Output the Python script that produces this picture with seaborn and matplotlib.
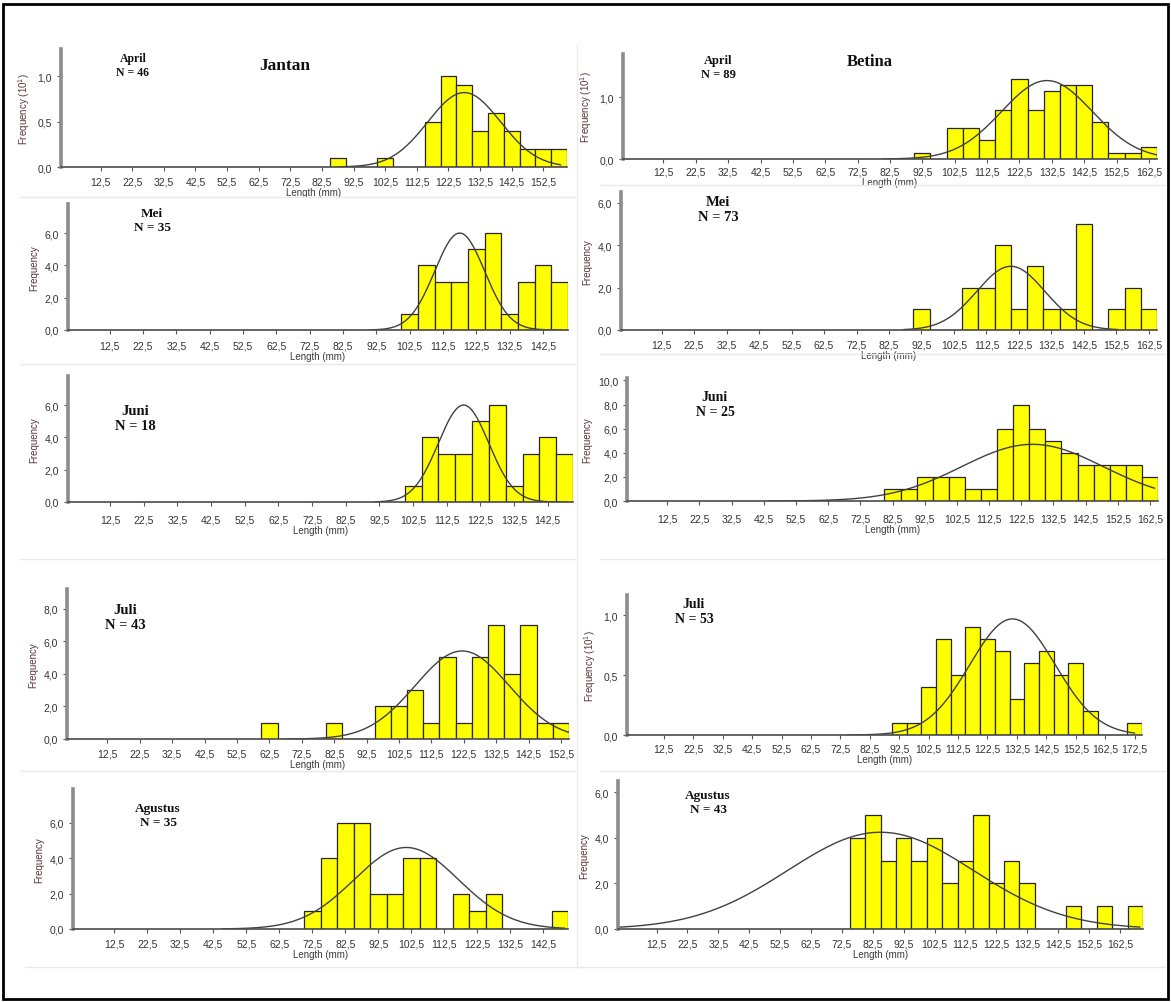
import numpy as np
import pandas as pd
import matplotlib
matplotlib.use("Agg")
import matplotlib.pyplot as plt
import seaborn as sns
from matplotlib.lines import Line2D
from matplotlib.patches import Rectangle

sns.set_theme(style="white")
plt.rcParams['font.family'] = ['Liberation Sans', 'DejaVu Sans']
plt.rcParams['mathtext.default'] = 'regular'

W, H = 1171, 1003

# ---- length-frequency data: bin centres (mm, 5 mm classes) and frequencies ----
months = ["April", "Mei", "Juni", "Juli", "Agustus"]
n_jantan = [46, 35, 18, 43, 35]
n_betina = [89, 73, 25, 53, 43]

apr_m_len = [87.5, 102.5, 117.5, 122.5, 127.5, 132.5, 137.5, 142.5, 147.5, 152.5, 157.5]
apr_m_freq = [0.1, 0.1, 0.5, 1.0, 0.9, 0.4, 0.6, 0.4, 0.2, 0.2, 0.2]

apr_f_len = [92.5, 102.5, 107.5, 112.5, 117.5, 122.5, 127.5, 132.5, 137.5, 142.5,
             147.5, 152.5, 157.5, 162.5]
apr_f_freq = [0.1, 0.5, 0.5, 0.3, 0.8, 1.3, 0.8, 1.1, 1.2, 1.2, 0.6, 0.1, 0.1, 0.2]

mei_m_len = [102.5, 107.5, 112.5, 117.5, 122.5, 127.5, 132.5, 137.5, 142.5, 147.5]
mei_m_freq = [1, 4, 3, 3, 5, 6, 1, 3, 4, 3]

mei_f_len = [92.5, 107.5, 112.5, 117.5, 122.5, 127.5, 132.5, 137.5, 142.5,
             152.5, 157.5, 162.5]
mei_f_freq = [1, 2, 2, 4, 1, 3, 1, 1, 5, 1, 2, 1]

jun_m_len = [102.5, 107.5, 112.5, 117.5, 122.5, 127.5, 132.5, 137.5, 142.5, 147.5]
jun_m_freq = [1, 4, 3, 3, 5, 6, 1, 3, 4, 3]

jun_f_len = [82.5, 87.5, 92.5, 97.5, 102.5, 107.5, 112.5, 117.5, 122.5, 127.5,
             132.5, 137.5, 142.5, 147.5, 152.5, 157.5, 162.5]
jun_f_freq = [1, 1, 2, 2, 2, 1, 1, 6, 8, 6, 5, 4, 3, 3, 3, 3, 2]

jul_m_len = [62.5, 82.5, 97.5, 102.5, 107.5, 112.5, 117.5, 122.5, 127.5, 132.5,
             137.5, 142.5, 147.5, 152.5]
jul_m_freq = [1, 1, 2, 2, 3, 1, 5, 1, 5, 7, 4, 7, 1, 1]

jul_f_len = [92.5, 97.5, 102.5, 107.5, 112.5, 117.5, 122.5, 127.5, 132.5, 137.5,
             142.5, 147.5, 152.5, 157.5, 172.5]
jul_f_freq = [0.1, 0.1, 0.4, 0.8, 0.5, 0.9, 0.8, 0.7, 0.3, 0.6, 0.7, 0.5, 0.6, 0.2, 0.1]

agu_m_len = [72.5, 77.5, 82.5, 87.5, 92.5, 97.5, 102.5, 107.5, 117.5, 122.5,
             127.5, 147.5]
agu_m_freq = [1, 4, 6, 6, 2, 2, 4, 4, 2, 1, 2, 1]

agu_f_len = [77.5, 82.5, 87.5, 92.5, 97.5, 102.5, 107.5, 112.5, 117.5, 122.5,
             127.5, 132.5, 147.5, 157.5, 167.5]
agu_f_freq = [4, 5, 3, 4, 3, 4, 2, 3, 5, 2, 3, 2, 1, 1, 1]

# fitted normal curves: mean, sd, peak height, drawn range (mm)
curve_mean = [127.5, 131.0, 117.5, 120.0, 117.5, 126.0, 122.0, 131.0, 101.0, 85.0]
curve_sd = [11.5, 14.0, 7.5, 10.5, 7.5, 22.0, 14.5, 14.5, 15.8, 30.0]
curve_peak = [0.82, 1.27, 6.0, 3.0, 6.0, 4.7, 5.4, 0.97, 4.6, 4.25]
curve_from = [88, 80, 91, 87, 91, 44, 68, 75, 45, 0]
curve_to = [158, 165, 148, 153, 148, 164, 155, 172.5, 149, 169]

lengths = [apr_m_len, apr_f_len, mei_m_len, mei_f_len, jun_m_len, jun_f_len,
           jul_m_len, jul_f_len, agu_m_len, agu_f_len]
freqs = [apr_m_freq, apr_f_freq, mei_m_freq, mei_f_freq, jun_m_freq, jun_f_freq,
         jul_m_freq, jul_f_freq, agu_m_freq, agu_f_freq]

YL_10 = "Frequency (10$^{1}$)"
YL = "Frequency"
ylabels = [YL_10, YL_10, YL, YL, YL, YL, YL, YL_10, YL, YL]
ylims = [1.3, 1.7, 7.8, 6.5, 7.8, 10.2, 9.2, 1.17, 7.9, 6.5]
yticks = [[0, 0.5, 1.0], [0, 1.0], [0, 2, 4, 6], [0, 2, 4, 6], [0, 2, 4, 6],
          [0, 2, 4, 6, 8, 10], [0, 2, 4, 6, 8], [0, 0.5, 1.0], [0, 2, 4, 6],
          [0, 2, 4, 6]]
xlims = [(0, 160), (0, 165), (0, 150), (0, 165), (0, 150), (0, 165),
         (0, 155), (0, 175), (0, 150), (0, 170)]
xtick_last = [152.5, 162.5, 142.5, 162.5, 142.5, 162.5, 152.5, 172.5, 142.5, 162.5]

# axes boxes in pixels: left, right, top, bottom
boxes = [(61, 567, 50, 168), (623, 1157, 55, 160),
         (68, 568, 205, 331), (621, 1157, 193, 331),
         (68, 573, 377, 503), (627, 1158, 379, 502),
         (67, 569, 590, 740), (627, 1142, 596, 736),
         (73, 568, 790, 930), (618, 1143, 782, 930)]
# extra gap between axis and x tick labels (points)
xpads = [3.5, 2.5, 4.5, 3.5, 6.0, 6.0, 3.5, 3.0, 4.0, 3.5]
# month / N annotation centre (pixels) and font size
notes = [(133, 66, 8.5), (718, 68, 9), (152, 221, 9.5), (718, 210, 10.5),
         (135, 419, 10.5), (715, 405, 10), (125, 618, 10.5), (694, 612, 10),
         (158, 816, 9.5), (708, 803, 9.5)]


def comma(v, nd=1):
    return f"{v:.{nd}f}".replace(".", ",")


fig = plt.figure(figsize=(W / 100, H / 100), dpi=100)
fig.patch.set_facecolor("white")

for i in range(10):
    l, r, t, b = boxes[i]
    ax = fig.add_axes([l / W, 1 - b / H, (r - l) / W, (b - t) / H])
    ax.set_facecolor("white")
    df = pd.DataFrame({"length": lengths[i], "freq": freqs[i]})
    lo = float(df["length"].min() - 2.5)
    hi = float(df["length"].max() + 2.5)
    sns.histplot(data=df, x="length", weights="freq", binwidth=5,
                 binrange=(lo, hi), ax=ax,
                 color="#FFFF00", edgecolor="#262626", linewidth=0.9,
                 alpha=1, stat="count", legend=False)
    xs = np.linspace(curve_from[i], curve_to[i], 300)
    ys = curve_peak[i] * np.exp(-0.5 * ((xs - curve_mean[i]) / curve_sd[i]) ** 2)
    sns.lineplot(x=xs, y=ys, ax=ax, color="#404040", linewidth=1.0)

    ax.set_xlim(*xlims[i])
    ax.set_ylim(0, ylims[i])
    xt = np.arange(12.5, xtick_last[i] + 0.1, 10)
    ax.set_xticks(xt)
    ax.set_xticklabels([comma(v) for v in xt])
    ax.set_yticks(yticks[i])
    ax.set_yticklabels([comma(v) for v in yticks[i]])
    ax.tick_params(axis="both", bottom=True, left=True, direction="out",
                   length=3, width=0.8, color="#555555", labelsize=7.5,
                   labelcolor="#333333")
    ax.tick_params(axis="x", pad=xpads[i])
    ax.tick_params(axis="y", pad=3.5)
    for s in ("top", "right"):
        ax.spines[s].set_visible(False)
    ax.spines["left"].set_color("#8c8c8c")
    ax.spines["left"].set_linewidth(2.6)
    ax.spines["bottom"].set_color("#4a4a4a")
    ax.spines["bottom"].set_linewidth(1.2)
    ax.set_xlabel("Length (mm)", fontsize=7, color="#3a3a3a", labelpad=0.5)
    ax.set_ylabel(ylabels[i], fontsize=7, color="#5a3434", labelpad=4)
    ax.grid(False)

    nx, ny, fs = notes[i]
    sex = n_jantan if i % 2 == 0 else n_betina
    fig.text(nx / W, 1 - ny / H, f"{months[i // 2]}\nN = {sex[i // 2]}",
             ha="center", va="center", fontsize=fs, fontweight="bold",
             family="Liberation Serif", color="#111111", linespacing=1.15)

fig.text(285 / W, 1 - 66 / H, "Jantan", ha="center", va="center",
         fontsize=12.5, fontweight="bold", family="Liberation Serif",
         color="#111111")
fig.text(870 / W, 1 - 62 / H, "Betina", ha="center", va="center", fontsize=12,
         fontweight="bold", family="Liberation Serif", color="#111111")

# faint panel separators
for (x0, x1, y) in [(20, 575, 198), (600, 1165, 186), (20, 575, 365),
                    (600, 1165, 355), (20, 575, 560), (600, 1165, 560),
                    (20, 575, 772), (600, 1165, 772), (25, 1165, 968)]:
    fig.add_artist(Line2D([x0 / W, x1 / W], [1 - y / H, 1 - y / H],
                          color="#e8e8e8", linewidth=1.0))
fig.add_artist(Line2D([577 / W, 577 / W], [1 - 45 / H, 1 - 968 / H],
                      color="#ebebeb", linewidth=1.0))

# outer frame
fig.add_artist(Rectangle((3 / W, 1 - 1000 / H), 1165 / W, 995 / H,
                         fill=False, edgecolor="black", linewidth=2.0))

fig.savefig("out.png", dpi=100, facecolor="white")
